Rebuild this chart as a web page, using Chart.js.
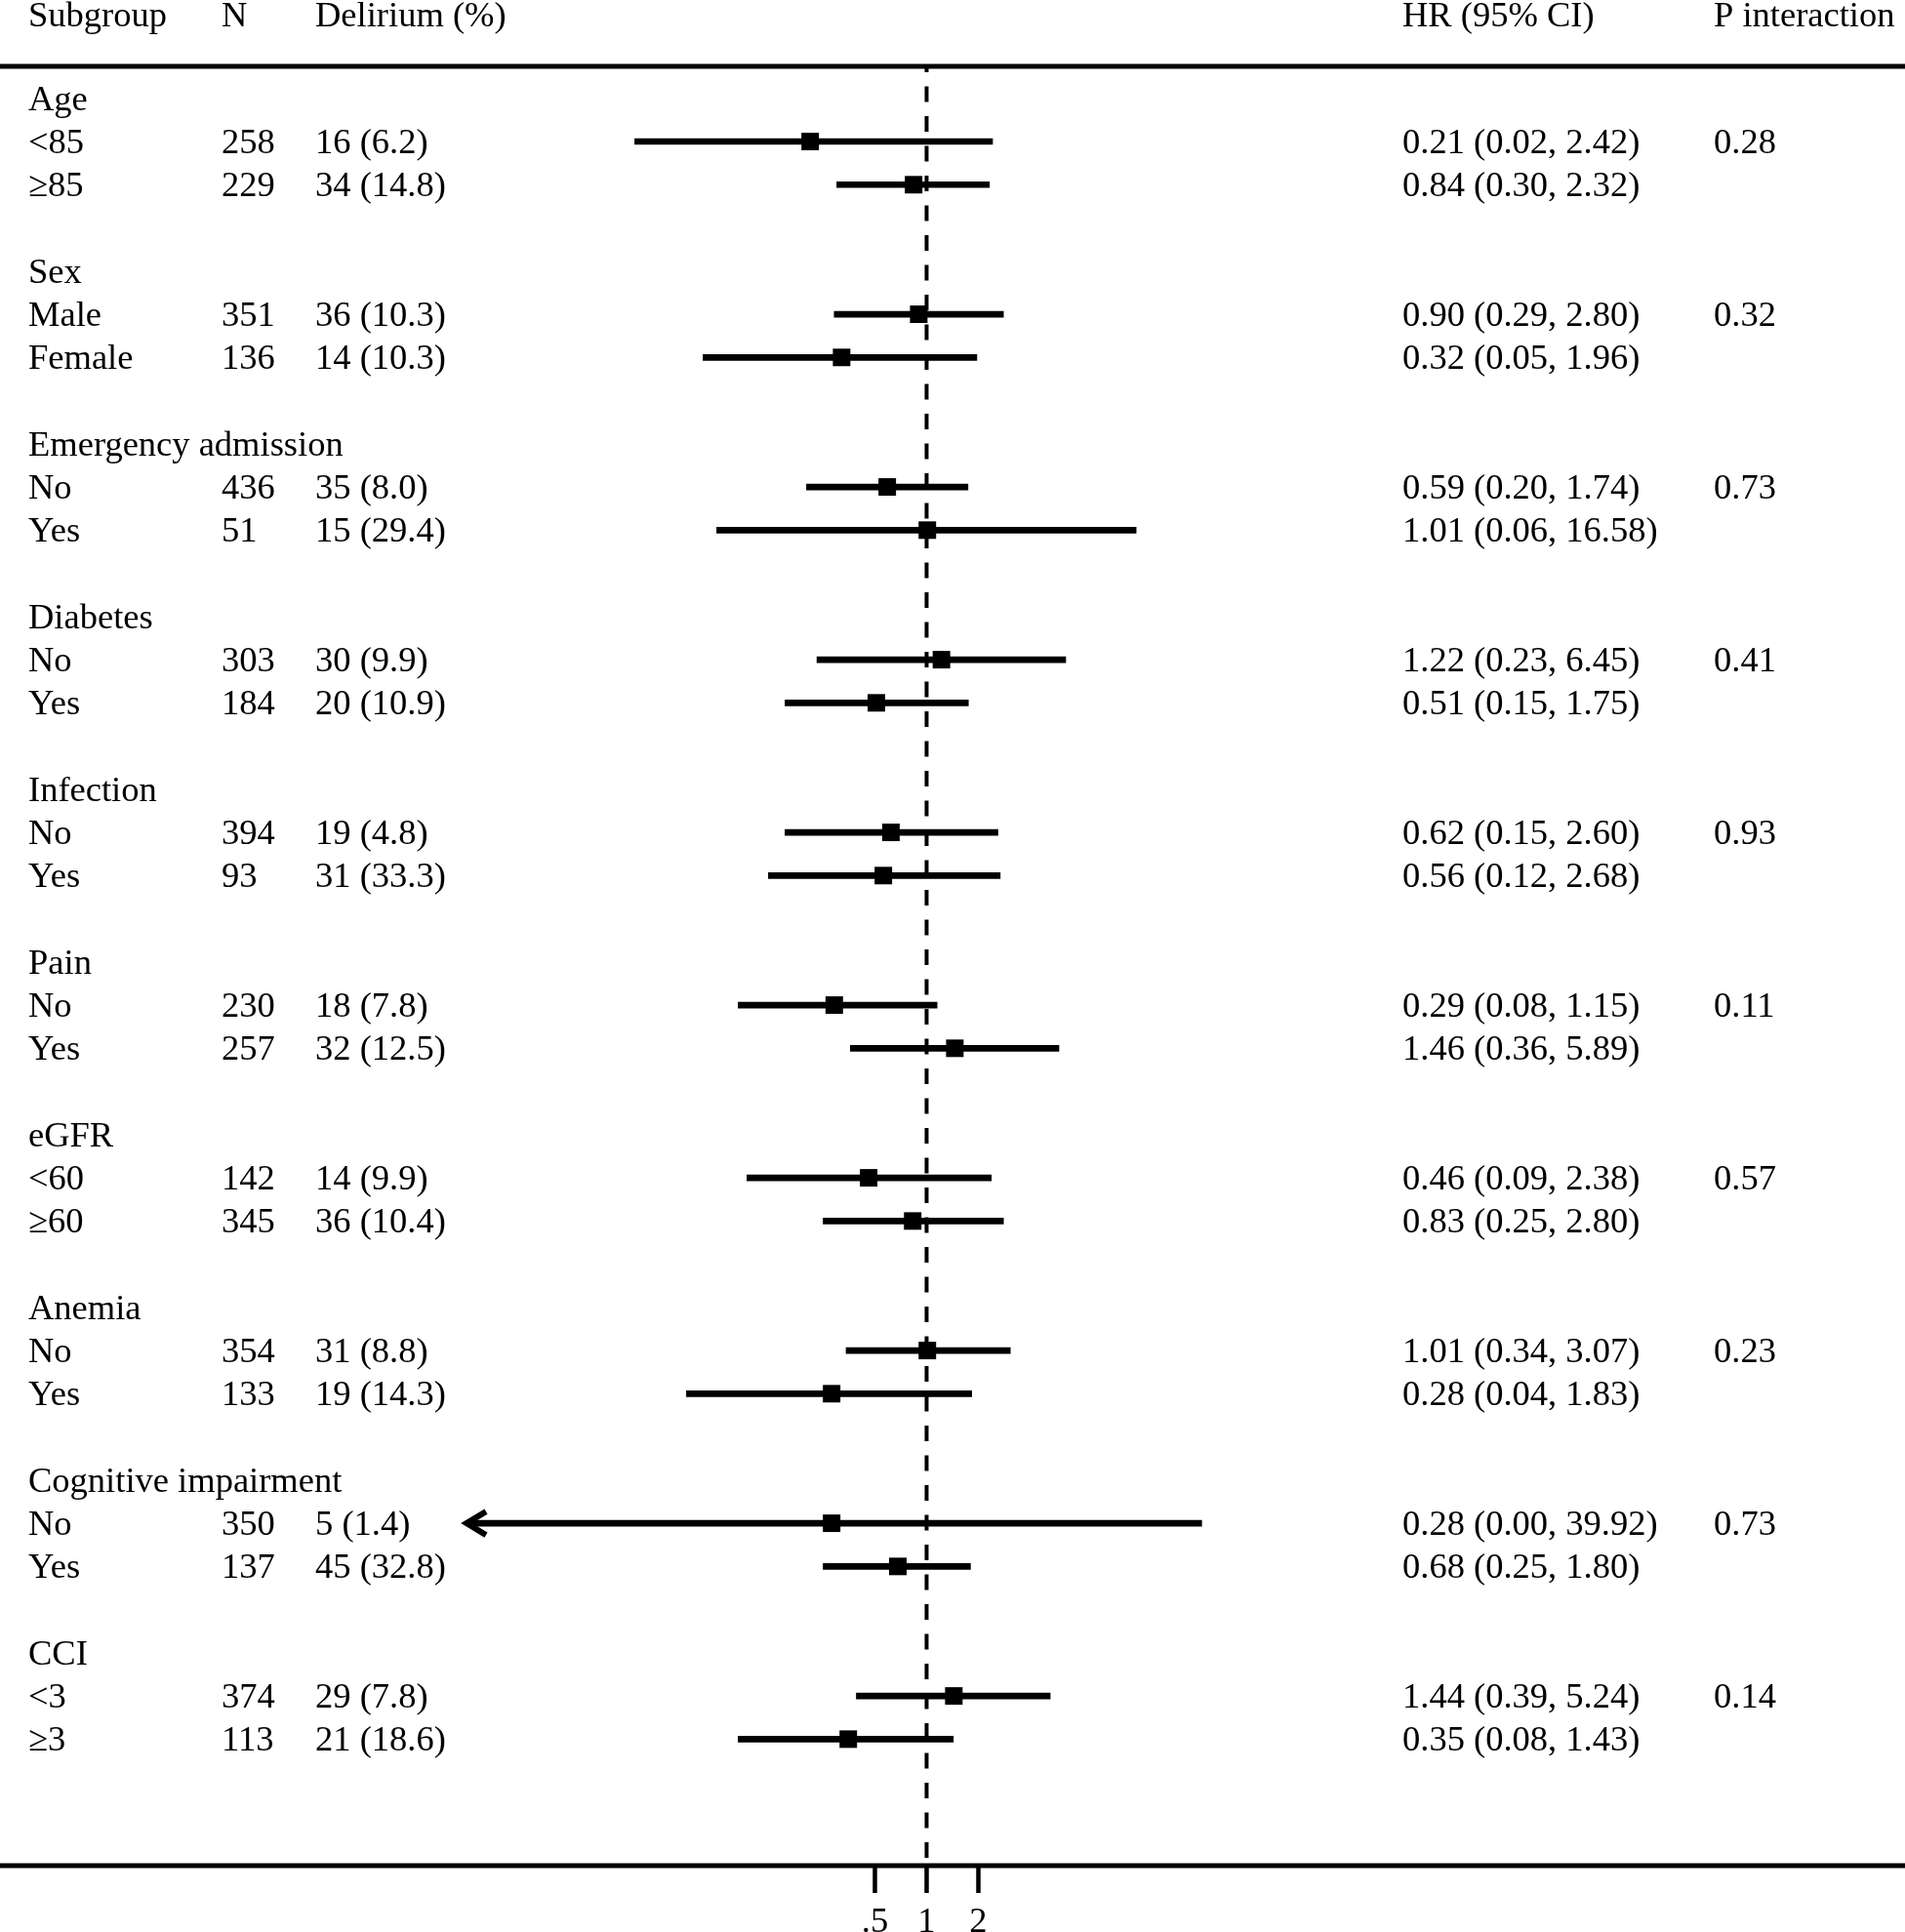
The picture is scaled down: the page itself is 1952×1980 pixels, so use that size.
<!DOCTYPE html>
<html>
<head>
<meta charset="utf-8">
<title>Subgroup forest plot</title>
<script src="https://cdn.jsdelivr.net/npm/chart.js@4.4.1/dist/chart.umd.min.js"></script>
<style>
  html, body { margin: 0; padding: 0; background: #fff; }
  canvas { display: block; }
</style>
</head>
<body>
<canvas id="forest" width="1952" height="1980"></canvas>
<script>
// Subgroups and their two levels each
const groups = ['Age', 'Sex', 'Emergency admission', 'Diabetes', 'Infection',
    'Pain', 'eGFR', 'Anemia', 'Cognitive impairment', 'CCI'];
const levels = ['<85', '≥85', 'Male', 'Female', 'No', 'Yes', 'No', 'Yes', 'No', 'Yes',
    'No', 'Yes', '<60', '≥60', 'No', 'Yes', 'No', 'Yes', '<3', '≥3'];
const nTotal = [258, 229, 351, 136, 436, 51, 303, 184, 394, 93,
    230, 257, 142, 345, 354, 133, 350, 137, 374, 113];
const deliriumN = [16, 34, 36, 14, 35, 15, 30, 20, 19, 31,
    18, 32, 14, 36, 31, 19, 5, 45, 29, 21];
const deliriumPct = [6.2, 14.8, 10.3, 10.3, 8.0, 29.4, 9.9, 10.9, 4.8, 33.3,
    7.8, 12.5, 9.9, 10.4, 8.8, 14.3, 1.4, 32.8, 7.8, 18.6];
// Hazard ratios with 95% CI
const hr = [0.21, 0.84, 0.90, 0.32, 0.59, 1.01, 1.22, 0.51, 0.62, 0.56,
    0.29, 1.46, 0.46, 0.83, 1.01, 0.28, 0.28, 0.68, 1.44, 0.35];
const ciLow = [0.02, 0.30, 0.29, 0.05, 0.20, 0.06, 0.23, 0.15, 0.15, 0.12,
    0.08, 0.36, 0.09, 0.25, 0.34, 0.04, 0.00, 0.25, 0.39, 0.08];
const ciHigh = [2.42, 2.32, 2.80, 1.96, 1.74, 16.58, 6.45, 1.75, 2.60, 2.68,
    1.15, 5.89, 2.38, 2.80, 3.07, 1.83, 39.92, 1.80, 5.24, 1.43];
const pInteraction = ['0.28', '0.32', '0.73', '0.41', '0.93', '0.11', '0.57', '0.23', '0.73', '0.14'];
// x axis ticks
const xTicks = [0.5, 1, 2];
const xTickLabels = ['.5', '1', '2'];

// axis limits (log scale); the low end is where clipped CIs get an arrow
const X_MIN = Math.pow(2, -8.86);
const X_MAX = Math.pow(2, 8.88);
const FONT = '36.5px "Liberation Serif", "Times New Roman", serif';

// each group takes 4 slots: label, level 1, level 2, blank
const rowSlot = levels.map((_, i) => Math.floor(i / 2) * 4 + 1 + (i % 2));

const ciData = hr.map((_, i) => ({ x: [Math.max(ciLow[i], X_MIN), ciHigh[i]], y: rowSlot[i] }));
const pointData = hr.map((v, i) => ({ x: v, y: rowSlot[i] }));

// dashed reference line at HR = 1
const refLine = {
    id: 'refLine',
    beforeDatasetsDraw(chart) {
        const { ctx, chartArea } = chart;
        const x = chart.scales.x.getPixelForValue(1);
        ctx.save();
        ctx.strokeStyle = '#000';
        ctx.lineWidth = 4;
        ctx.setLineDash([16, 14.5]);
        ctx.lineDashOffset = 10;
        ctx.beginPath();
        ctx.moveTo(x, chartArea.top);
        ctx.lineTo(x, chartArea.bottom);
        ctx.stroke();
        ctx.restore();
    }
};

// arrows for CIs that run past the left end of the axis
const clipArrows = {
    id: 'clipArrows',
    afterDatasetsDraw(chart) {
        const { ctx } = chart;
        const xs = chart.scales.x, ys = chart.scales.y;
        ctx.save();
        ctx.strokeStyle = '#000';
        ctx.lineWidth = 6;
        ctx.lineJoin = 'miter';
        ciLow.forEach((lo, i) => {
            if (lo >= X_MIN) return;
            const tip = xs.getPixelForValue(X_MIN) - 2;
            const y = ys.getPixelForValue(rowSlot[i]);
            ctx.beginPath();
            ctx.moveTo(tip + 20, y - 12);
            ctx.lineTo(tip, y);
            ctx.lineTo(tip + 20, y + 12);
            ctx.stroke();
        });
        ctx.restore();
    }
};

// table columns and horizontal rules
const table = {
    id: 'table',
    afterDraw(chart) {
        const { ctx, chartArea, width } = chart;
        const ys = chart.scales.y;
        const cols = { sub: 29, n: 227, del: 323, hr: 1437, p: 1756 };
        ctx.save();
        ctx.fillStyle = '#000';
        ctx.font = FONT;
        ctx.textAlign = 'left';
        ctx.textBaseline = 'alphabetic';

        const hy = 27;
        ctx.fillText('Subgroup', cols.sub, hy);
        ctx.fillText('N', cols.n, hy);
        ctx.fillText('Delirium (%)', cols.del, hy);
        ctx.fillText('HR (95% CI)', cols.hr, hy);
        ctx.fillText('P interaction', cols.p, hy);

        groups.forEach((g, j) => {
            const y = ys.getPixelForValue(j * 4) + 12;
            ctx.fillText(g, cols.sub, y);
            const y1 = ys.getPixelForValue(j * 4 + 1) + 12;
            ctx.fillText(pInteraction[j], cols.p, y1);
        });
        levels.forEach((lv, i) => {
            const y = ys.getPixelForValue(rowSlot[i]) + 12;
            ctx.fillText(lv, cols.sub, y);
            ctx.fillText(String(nTotal[i]), cols.n, y);
            ctx.fillText(deliriumN[i] + ' (' + deliriumPct[i].toFixed(1) + ')', cols.del, y);
            ctx.fillText(hr[i].toFixed(2) + ' (' + ciLow[i].toFixed(2) + ', ' + ciHigh[i].toFixed(2) + ')', cols.hr, y);
        });

        ctx.fillRect(0, chartArea.top - 2.5, width, 5);
        ctx.fillRect(0, chartArea.bottom - 2.5, width, 5);
        ctx.restore();
    }
};

new Chart(document.getElementById('forest'), {
    type: 'bar',
    data: {
        datasets: [{
            type: 'bar',
            indexAxis: 'y',
            data: ciData,
            backgroundColor: '#000',
            borderWidth: 0,
            barThickness: 6,
            grouped: false
        }, {
            type: 'scatter',
            data: pointData,
            pointStyle: 'rect',
            pointRadius: 12.7,
            backgroundColor: '#000',
            borderWidth: 0
        }]
    },
    options: {
        responsive: false,
        devicePixelRatio: 1,
        animation: false,
        layout: { padding: { left: 480, right: 532, top: 68, bottom: 0 } },
        plugins: {
            legend: { display: false },
            tooltip: { enabled: false }
        },
        scales: {
            x: {
                type: 'logarithmic',
                position: 'bottom',
                min: X_MIN,
                max: X_MAX,
                offset: false,
                afterFit(scale) { scale.height = 68; },
                afterBuildTicks(scale) {
                    scale.ticks = xTicks.map(v => ({ value: v }));
                },
                border: { display: false },
                grid: {
                    offset: false,
                    drawOnChartArea: false,
                    drawTicks: true,
                    tickLength: 28,
                    tickWidth: 4.5,
                    tickColor: '#000'
                },
                ticks: {
                    autoSkip: false,
                    maxRotation: 0,
                    padding: 9,
                    color: '#000',
                    font: { family: '"Liberation Serif", "Times New Roman", serif', size: 36.5 },
                    callback(value) {
                        const k = xTicks.indexOf(value);
                        return k >= 0 ? xTickLabels[k] : '';
                    }
                }
            },
            y: {
                type: 'linear',
                display: false,
                reverse: true,
                offset: false,
                grid: { offset: false },
                min: -0.741,
                max: 40.93
            }
        }
    },
    plugins: [refLine, clipArrows, table]
});
</script>
</body>
</html>
